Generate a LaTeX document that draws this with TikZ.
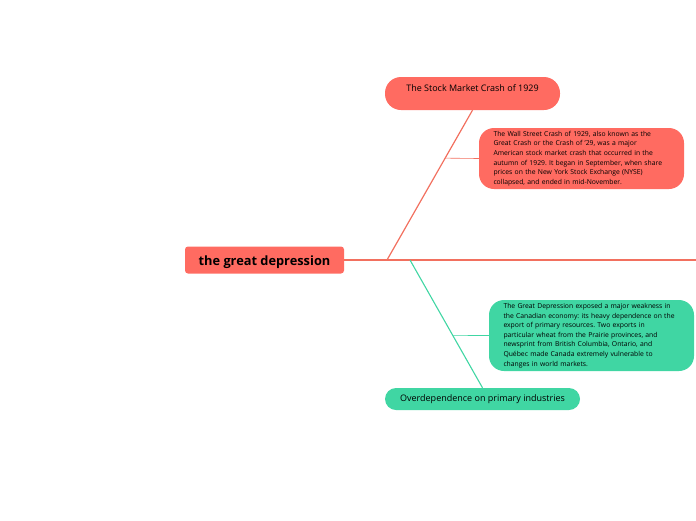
\documentclass[tikz,border=0pt]{standalone}
\usepackage{fontspec}
\setmainfont{Open Sans}
\usetikzlibrary{calc}

\definecolor{crashred}{HTML}{FF6B61}
\definecolor{lineRed}{HTML}{F2705F}
\definecolor{primgreen}{HTML}{40D6A3}

\begin{document}
\frenchspacing
\begin{tikzpicture}[x=1pt, y=-1pt,
    topic/.style={fill=crashred, draw=none, rounded corners=3pt, minimum width=159pt, minimum height=27pt, inner sep=0pt, text height=11pt, text depth=0pt, font=\fontsize{12.8}{14}\selectfont\bfseries},
    pill/.style={draw=none, inner sep=0pt, font=\fontsize{9}{11}\selectfont},
    desc/.style={draw=none, rounded corners=15pt, inner sep=0pt, align=left, text width=176pt, font=\fontsize{6.8}{9.6}\selectfont},
    redline/.style={draw=lineRed, line width=1.4pt},
    greenline/.style={draw=primgreen, line width=1.1pt}
]
\useasboundingbox (0,0) rectangle (696,520);

\node[topic] (root) at (264.5,260) {the great depression};

\node[pill, fill=crashred, rounded corners=16pt, minimum width=175pt, minimum height=33pt] (crash) at (472.5,93.5) {};
\node[pill] (crashtxt) at (472.5,88.5) {The Stock Market Crash of 1929};
\node[desc, fill=crashred, minimum width=205pt, minimum height=61pt] (crashdesc) at (581.5,158.5) {The Wall Street Crash of 1929, also known as the\\
Great Crash or the Crash of '29, was a major\\
American stock market crash that occurred in the\\
autumn of 1929. It began in September, when share\\
prices on the New York Stock Exchange (NYSE)\\
collapsed, and ended in mid-November.};

\node[pill, fill=primgreen, rounded corners=11pt, minimum width=195pt, minimum height=22pt] (primary) at (482.5,399) {Overdependence on primary industries};
\node[desc, fill=primgreen, minimum width=205pt, minimum height=71pt] (primdesc) at (591.5,335.5) {The Great Depression exposed a major weakness in\\
the Canadian economy: its heavy dependence on the\\
export of primary resources. Two exports in\\
particular wheat from the Prairie provinces, and\\
newsprint from British Columbia, Ontario, and\\
Québec made Canada extremely vulnerable to\\
changes in world markets.};

\coordinate (rootend) at (696,260);
\coordinate (redfork) at (387,260);
\coordinate (greenfork) at (410,260);
\coordinate (redbranch) at ($(redfork)!0.68!(crash.south)$);
\coordinate (greenbranch) at ($(greenfork)!0.59!(primary.north)$);

\draw[redline] (root.east) -- (rootend);
\draw[redline, line width=1.2pt] (redfork) -- (crash.south);
\draw[redline, line width=0.6pt] (redbranch) -- (crashdesc.west);
\draw[greenline] (greenfork) -- (primary.north);
\draw[greenline, line width=0.6pt] (greenbranch) -- (primdesc.west);
\end{tikzpicture}
\end{document}
